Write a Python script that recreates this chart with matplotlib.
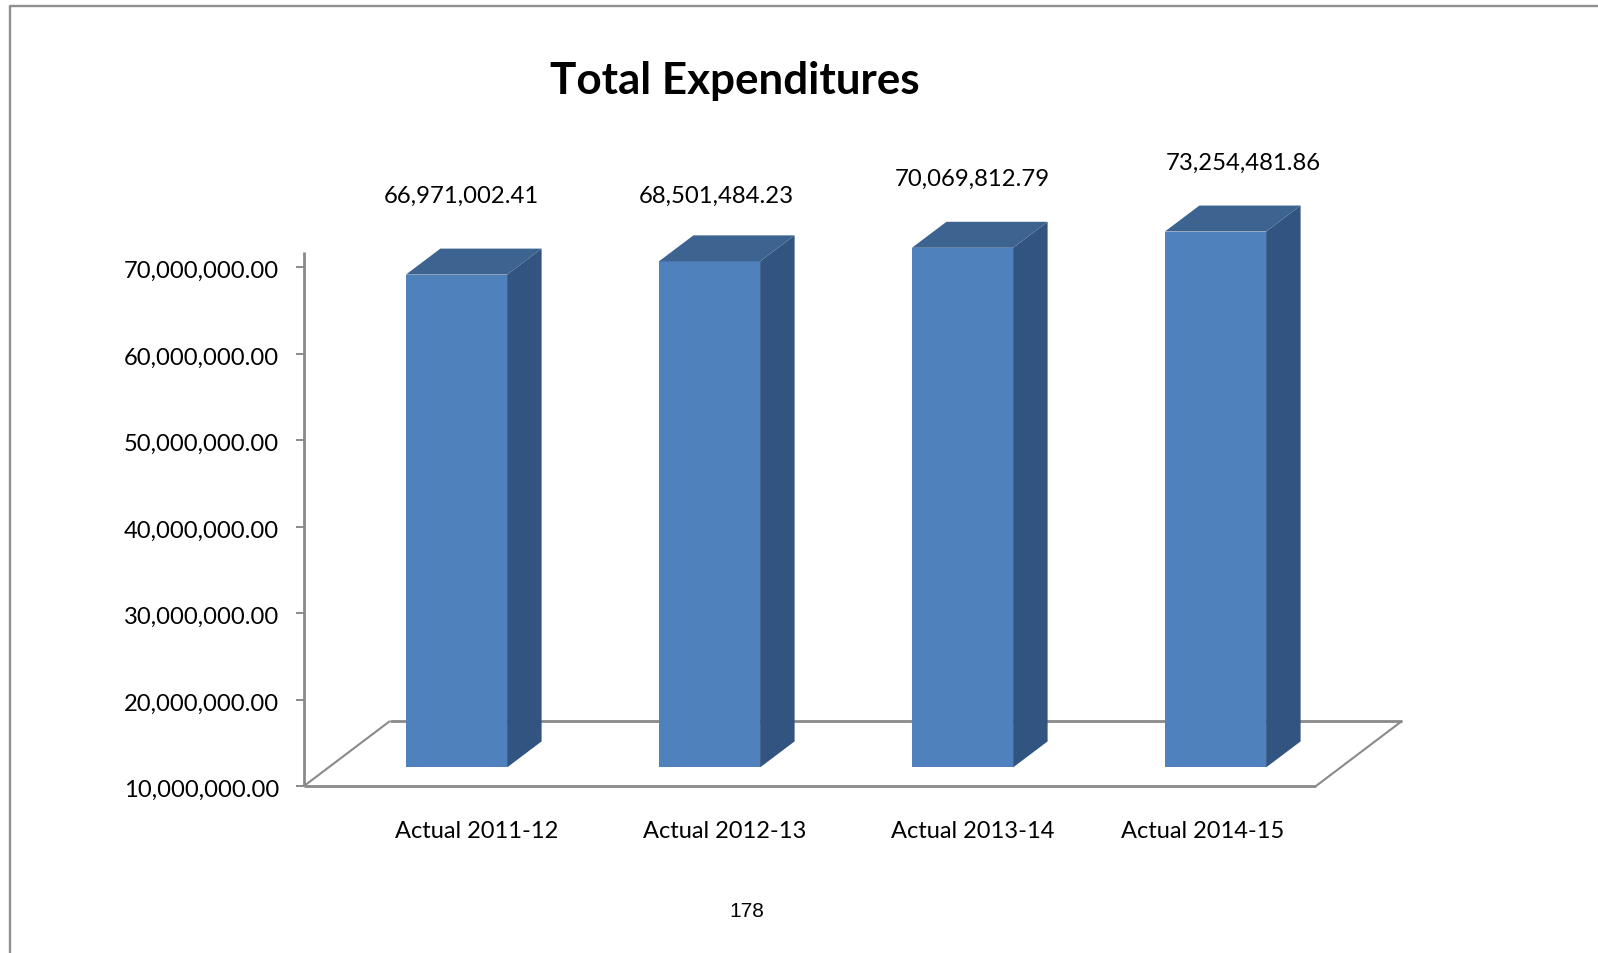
import matplotlib
matplotlib.use("Agg")
import matplotlib.pyplot as plt
from matplotlib.patches import Polygon
from matplotlib.transforms import Affine2D, ScaledTranslation

W, H = 1598, 954
title = "Total Expenditures"
page_number = "178"
categories = ["Actual 2011-12", "Actual 2012-13", "Actual 2013-14", "Actual 2014-15"]
# Values printed on the chart
value_labels = ["66,971,002.41", "68,501,484.23", "70,069,812.79", "73,254,481.86"]
# Bar heights (the last bar is drawn shorter than its label)
bar_values = [66971002, 68501484, 70069813, 71950000]
y_ticks = [10000000, 20000000, 30000000, 40000000, 50000000, 60000000, 70000000]

FRONT, SIDE, TOP = "#4F81BD", "#325480", "#3D6491"
GRAY = "#8A8A8A"
FONT = "Lato"
plt.rcParams["font.family"] = FONT

fig = plt.figure(figsize=(W / 100, H / 100), dpi=100, facecolor="white")
L, R, T, B = 304, 1316, 253, 787
ax = fig.add_axes([L / W, 1 - B / H, (R - L) / W, (B - T) / H])
ax.set_xlim(-0.5, 3.5)
ax.set_ylim(10000000, 10000000 + (B - T) / 8.65 * 1e6)
for s in ("top", "right"):
    ax.spines[s].set_visible(False)
for s in ("left", "bottom"):
    ax.spines[s].set_color(GRAY)
    ax.spines[s].set_linewidth(2.0)
    ax.spines[s].set_zorder(1)
    ax.spines[s].set_capstyle("butt")
ax.set_yticks(y_ticks)
ax.set_yticklabels([f"{v:,.2f}" for v in y_ticks])
ax.set_xticks([])
ax.tick_params(axis="y", length=6, width=1.4, color=GRAY, pad=12, labelsize=17.1, labelcolor="black")
ax.patch.set_alpha(0)
for lab in ax.get_yticklabels():
    lab.set_transform(lab.get_transform() + Affine2D().translate(0, -1.5))


def px(dx, dy):
    return ax.transData + Affine2D().translate(dx, dy)


# floor: back edge and the two side edges
DX, DY = 86, 65
ax.plot([-0.5, 3.5], [10000000, 10000000], transform=px(DX, DY), color=GRAY, lw=2.0,
        clip_on=False, zorder=1, solid_capstyle="butt")
for x0 in (-0.5, 3.5):
    a = ax.transData.transform((x0, 10000000))
    inv = ax.transData.inverted()
    b = inv.transform((a[0] + DX, a[1] + DY))
    ax.plot([x0, b[0]], [10000000, b[1]], color=GRAY, lw=1.5, clip_on=False, zorder=1, solid_capstyle="butt")

# bars
BW = 0.4
INX, INY = 26, 18.6
DEPX, DEPY = 34.5, 26
base = y_ticks[0]
for i, v in enumerate(bar_values):
    l, r = i - BW / 2, i + BW / 2
    # side and top faces built by shifting the front edge in pixel space
    p = ax.transData.transform([(l, base), (r, base), (r, v), (l, v)])
    p[:, 0] += INX
    p[:, 1] += INY
    fr_bl, fr_br, fr_tr, fr_tl = p
    d = [DEPX, DEPY]
    side = Polygon([fr_br, fr_br + d, fr_tr + d, fr_tr], closed=True, fc=SIDE, ec="none",
                   transform=None, zorder=3)
    top = Polygon([fr_tl, fr_tr, fr_tr + d, fr_tl + d], closed=True, fc=TOP, ec="none",
                  transform=None, zorder=3)
    fig.add_artist(side)
    fig.add_artist(top)
    ax.bar(i, v - base, bottom=base, width=BW, color=FRONT, transform=px(INX, INY), zorder=4, clip_on=False)


def ptext(x, y, s, **kw):
    fig.text(x / W, 1 - y / H, s, ha="center", va="center", **kw)


ptext(735, 81, title, fontsize=31.7, fontweight="bold", color="black")
for x, y, s in zip([461, 716, 972, 1243], [196, 196, 179.5, 163], value_labels):
    ptext(x, y, s, fontsize=17.2, color="black")
for x, s in zip([477, 724.6, 973, 1202.6], categories):
    ptext(x, 832, s, fontsize=17.0, color="black")
ptext(747, 912, page_number, fontsize=15, family="Liberation Sans", color="black")

# page frame, running off the right and bottom edges
fig.add_artist(plt.Line2D([1, 9.5 / W, 9.5 / W], [1 - 6.5 / H, 1 - 6.5 / H, 0], color="#8F8F8F", lw=1.7,
                          transform=fig.transFigure))
fig.savefig("out.png", dpi=100)
